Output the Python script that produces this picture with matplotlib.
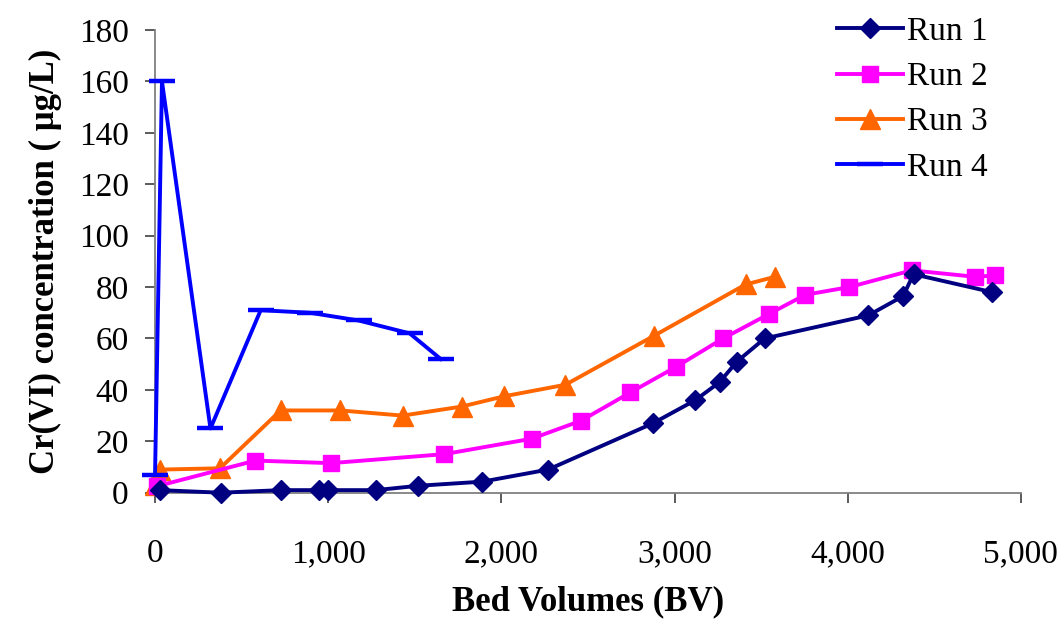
import matplotlib.pyplot as plt

# Breakthrough data, Cr(VI) in effluent vs bed volumes treated
run1_bv = [30, 380, 725, 945, 1000, 1275, 1520, 1890, 2270, 2875, 3120, 3260, 3360, 3520, 4120, 4320, 4380, 4835]
run1_cr = [1, 0, 1, 1, 1, 1, 2.7, 4.3, 9, 27, 36, 43, 51, 60, 69, 76.5, 85, 78]

run2_bv = [10, 580, 1015, 1670, 2175, 2460, 2745, 3010, 3280, 3545, 3755, 4010, 4370, 4735, 4850]
run2_cr = [2.5, 12.5, 11.5, 15, 21, 28, 39, 49, 60, 69.5, 77, 80, 86.5, 84, 84.5]

run3_bv = [0, 30, 375, 725, 1070, 1430, 1770, 2015, 2370, 2880, 3410, 3580]
run3_cr = [3, 9, 9.5, 32, 32, 30, 33.5, 37.5, 42, 61, 81, 84]

run4_bv = [0, 40, 320, 610, 895, 1175, 1470, 1650]
run4_cr = [7, 160, 25, 71, 70, 67, 62, 52]

xticks = [0, 1000, 2000, 3000, 4000, 5000]
yticks = list(range(0, 181, 20))

plt.rcParams['font.family'] = ['Liberation Serif', 'DejaVu Serif']

fig = plt.figure(figsize=(10.59, 6.2), dpi=100)
ax = fig.add_axes([0.1464, 0.2053, 0.8176, 0.7463])

ax.plot(run1_bv, run1_cr, color='#000080', lw=2.8, marker='D', ms=10, label='Run 1', clip_on=False, zorder=5)
ax.plot(run2_bv, run2_cr, color='#FF00FF', lw=2.8, marker='s', ms=12, label='Run 2', clip_on=False, zorder=4)
ax.plot(run3_bv, run3_cr, color='#FF6600', lw=2.8, marker='^', ms=14, label='Run 3', clip_on=False, zorder=3)
ax.plot(run4_bv, run4_cr, color='#0000FF', lw=2.8, marker='_', ms=19, mew=3.2, label='Run 4', clip_on=False, zorder=6)

ax.set_xlim(0, 5000)
ax.set_ylim(0, 180)
ax.set_xticks(xticks)
ax.set_xticklabels([f'{v:,}' for v in xticks])
ax.set_yticks(yticks)

for side in ['top', 'right']:
    ax.spines[side].set_visible(False)
for side in ['left', 'bottom']:
    ax.spines[side].set_color('#808080')
    ax.spines[side].set_linewidth(1.3)

ax.tick_params(axis='both', labelsize=24, length=7, width=1.2, color='#404040', direction='out')
ax.tick_params(axis='x', pad=26)
ax.tick_params(axis='y', pad=12)

ax.set_xlabel('Bed Volumes (BV)', fontsize=25, fontweight='bold', labelpad=12)
ax.set_ylabel('Cr(VI) concentration ( μg/L)', fontsize=25, fontweight='bold', labelpad=12)

ax.legend(loc='upper left', bbox_to_anchor=(0.772, 1.058), frameon=False, fontsize=24,
          handlelength=2.0, handletextpad=0.12, labelspacing=0.44, borderaxespad=0)

fig.savefig('out.png', dpi=100)
